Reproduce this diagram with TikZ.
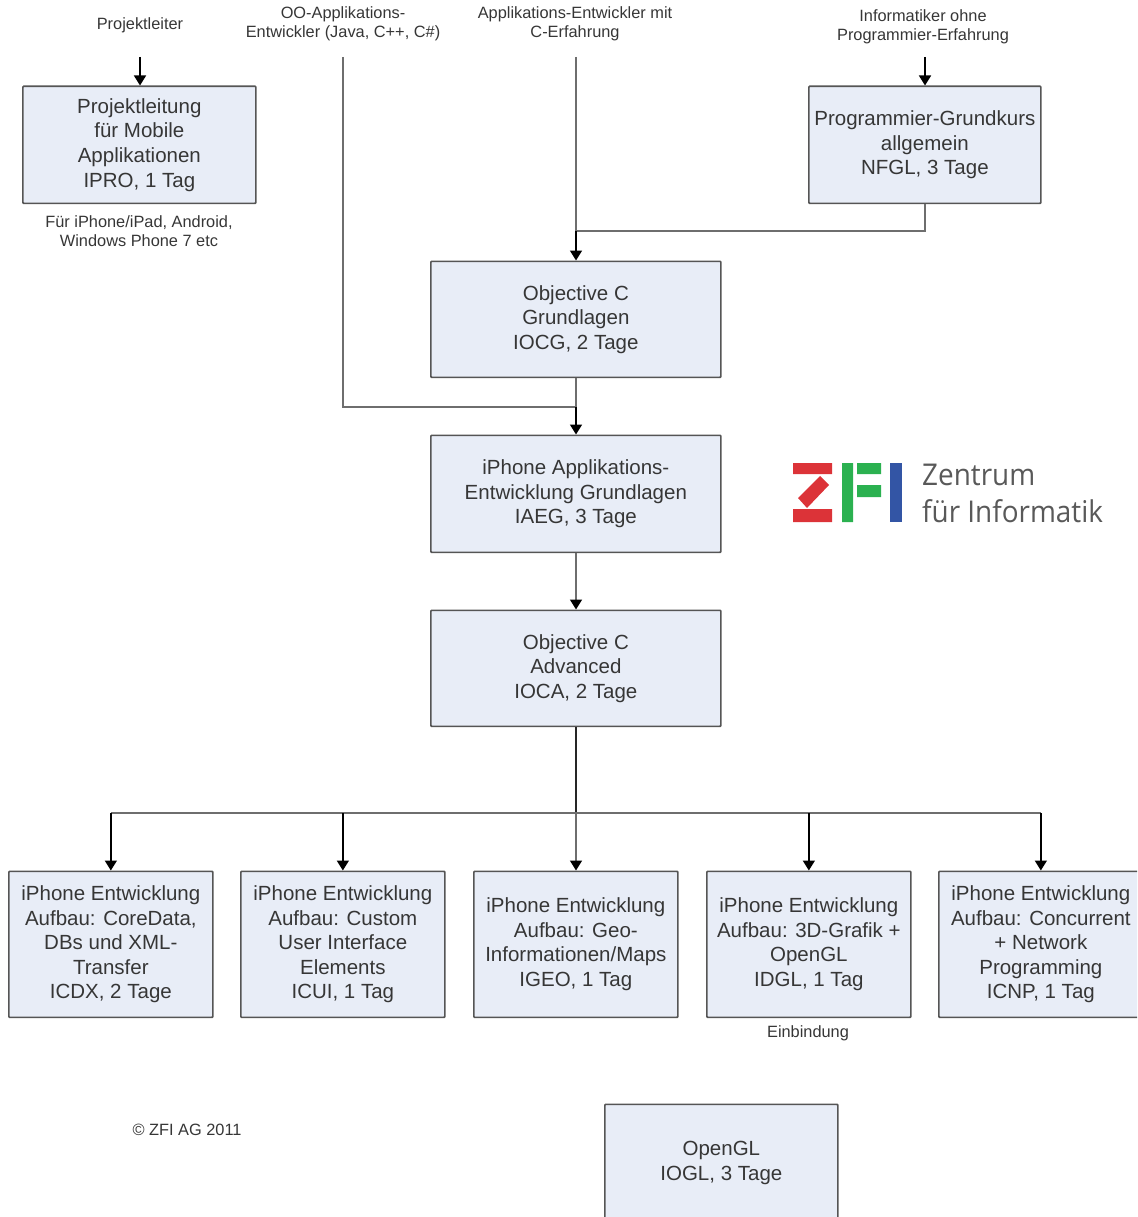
\documentclass[tikz,border=0pt]{standalone}
\usepackage{fontspec}
\setmainfont{Liberation Sans}
\newfontfamily\logofont[FakeStretch=0.93]{Open Sans}
\usetikzlibrary{arrows.meta}
\definecolor{boxfill}{HTML}{E8EDF7}
\definecolor{boxline}{HTML}{555555}
\definecolor{linkgray}{HTML}{6E6E6E}
\definecolor{txt}{HTML}{363636}
\definecolor{zred}{HTML}{DC3338}
\definecolor{zgreen}{HTML}{2BB150}
\definecolor{zblue}{HTML}{3355A5}
\tikzset{
  x=1pt,y=-1pt,
  course/.style={draw=boxline,fill=boxfill,line width=1.7pt,rounded corners=0.8pt,minimum width=#1,inner sep=0pt,align=center,text=txt,
     font=\fontsize{20.5}{24.6}\selectfont,anchor=north west},
  course/.default=233pt,
  note/.style={align=center,text=txt,font=\fontsize{16.35}{19.4}\selectfont,inner sep=0pt},
  link/.style={draw=linkgray,line width=1.6pt},
  linka/.style={draw=linkgray,line width=1.6pt,-{Triangle[length=10pt,width=12pt,fill=black,color=black]}},
  linkb/.style={draw=black,line width=1.6pt,-{Triangle[length=10pt,width=12pt,fill=black,color=black]}},
}
\begin{document}
\begin{tikzpicture}
\useasboundingbox (0,0) rectangle (1137,1217);
\clip (0,0) rectangle (1137,1217);
% courses
\node[course=233pt,minimum height=117pt] (ipro) at (22,85.5) {Projektleitung\\ für Mobile\\Applikationen\\IPRO, 1 Tag};
\node[course=232pt,minimum height=117pt] (nfgl) at (808,85.5) {Programmier-Grundkurs\\allgemein\\NFGL, 3 Tage};
\node[course=290pt,minimum height=116pt] (iocg) at (430,260.5) {Objective C\\Grundlagen\\IOCG, 2 Tage};
\node[course=290pt,minimum height=117pt] (iaeg) at (430,434.5) {iPhone Applikations-\\Entwicklung Grundlagen\\IAEG, 3 Tage};
\node[course=290pt,minimum height=116pt] (ioca) at (430,609.5) {Objective C\\Advanced\\IOCA, 2 Tage};
\node[course=204pt,minimum height=146pt] (icdx) at (8,870.5) {iPhone Entwicklung\\Aufbau: CoreData,\\DBs und XML-\\Transfer\\ICDX, 2 Tage};
\node[course=204pt,minimum height=146pt] (icui) at (240,870.5) {iPhone Entwicklung\\Aufbau: Custom\\User Interface\\Elements\\ICUI, 1 Tag};
\node[course=204pt,minimum height=146pt] (igeo) at (473,870.5) {iPhone Entwicklung\\Aufbau: Geo-\\Informationen/Maps\\IGEO, 1 Tag};
\node[course=204pt,minimum height=146pt] (idgl) at (706,870.5) {iPhone Entwicklung\\Aufbau: 3D-Grafik +\\OpenGL\\IDGL, 1 Tag};
\node[course=204pt,minimum height=146pt] (icnp) at (938,870.5) {iPhone Entwicklung\\Aufbau: Concurrent\\+ Network\\Programming\\ICNP, 1 Tag};
\node[course=233pt,minimum height=117pt] (iogl) at (604,1103.5) {OpenGL\\IOGL, 3 Tage};
% labels
\node[note] (lp) at (140,25) {Projektleiter};
\node[note] (lo) at (343,24) {OO-Applikations-\\Entwickler (Java, C++, C\#)};
\node[note] (la) at (575,24) {Applikations-Entwickler mit\\C-Erfahrung};
\node[note] (li) at (923,27) {Informatiker ohne\\Programmier-Erfahrung};
\node[note] (lf) at (139,231) {Für iPhone/iPad, Android,\\Windows Phone 7 etc};
\node[note] (le) at (808,1033) {Einbindung};
\node[note] (lc) at (187,1130) {© ZFI AG 2011};
% free ends
\coordinate (sp) at (140,57);
\coordinate (so) at (343,57);
\coordinate (sa) at (576,57);
\coordinate (si) at (925,57);
\coordinate (bo) at (343,407);
\coordinate (bn) at (925,231);
\coordinate (jn) at (576,231);
\coordinate (jo) at (576,407);
\coordinate (bus) at (576,813);
% connectors
\draw[linkb] (sp) -- (ipro.north -| sp);
\draw[linkb] (si) -- (nfgl.north -| si);
\draw[link] (sa) -- (jn);
\draw[link] (nfgl.south -| bn) -- (bn) -- (jn);
\draw[linkb] (jn) -- (iocg.north -| jn);
\draw[link] (so) -- (bo) -- (jo);
\draw[link] (iocg.south -| jo) -- (jo);
\draw[linkb] (jo) -- (iaeg.north -| jo);
\draw[linka] (iaeg.south -| jo) -- (ioca.north -| jo);
\draw[draw=black!85,line width=1.6pt] (ioca.south -| jo) -- (bus);
\draw[link] (icdx.north |- bus) -- (icnp.north |- bus);
\draw[linkb] (icdx.north |- bus) -- (icdx.north);
\draw[linkb] (icui.north |- bus) -- (icui.north);
\draw[linka] (bus) -- (igeo.north -| bus);
\draw[linkb] (idgl.north |- bus) -- (idgl.north);
\draw[linkb] (icnp.north |- bus) -- (icnp.north);
% logo
\fill[zred] (793,463) rectangle (832,474) (793,509) rectangle (832,522);
\fill[zred] (820,476) -- (829,485) -- (807,508) -- (798,498) -- cycle;
\fill[zgreen] (842,463) rectangle (853,522) (857,463) rectangle (881,474) (857,485) rectangle (881,497);
\fill[zblue] (890,463) rectangle (902,522);
\node[inner sep=0pt,anchor=base west,text=black!65,font=\logofont\fontsize{30}{36}\selectfont] (lz) at (922,485) {Zentrum};
\node[inner sep=0pt,anchor=base west,text=black!65,font=\logofont\fontsize{30}{36}\selectfont] (lf2) at (922,522) {für Informatik};
\end{tikzpicture}
\end{document}
